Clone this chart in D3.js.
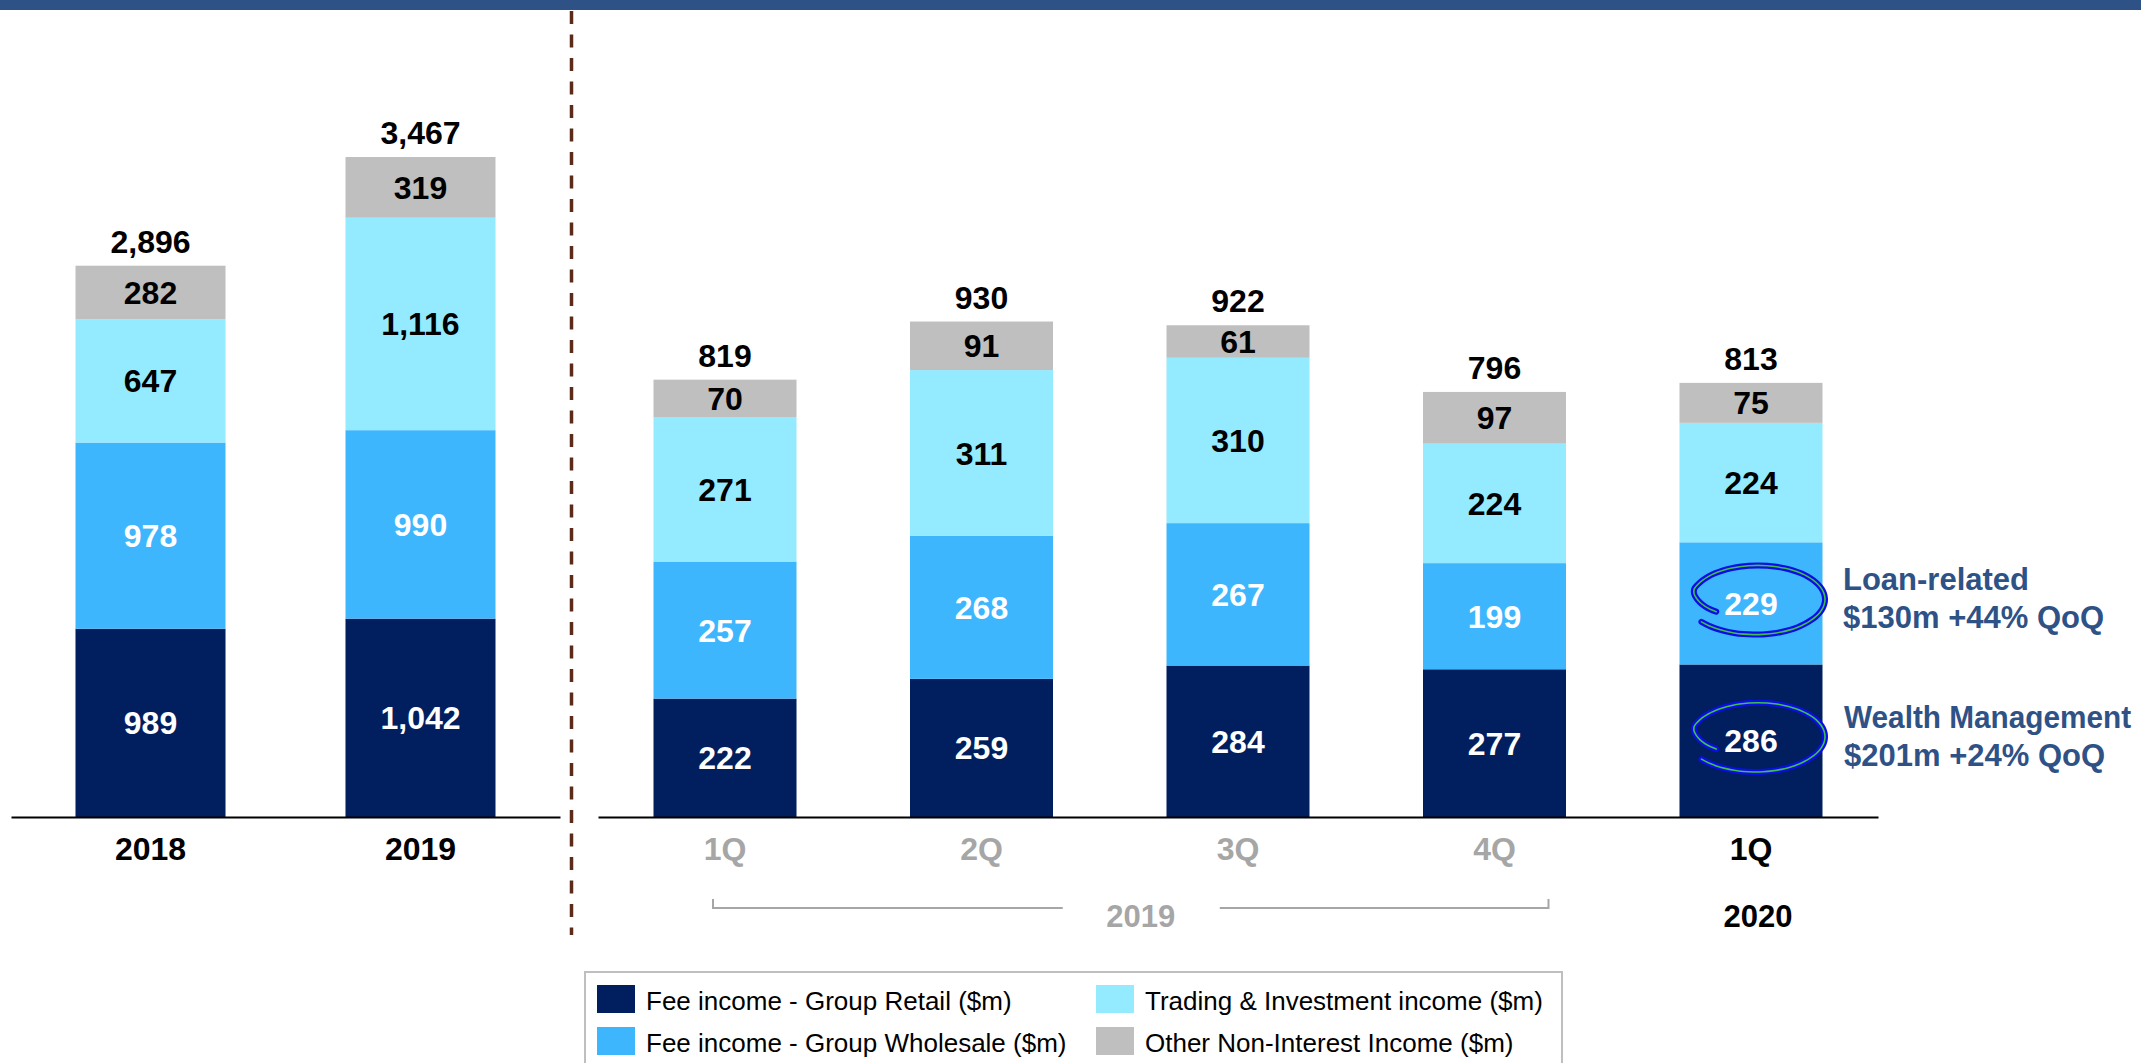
<!DOCTYPE html>
<html>
<head>
<meta charset="utf-8">
<script src="https://cdn.jsdelivr.net/npm/d3@7"></script>
<style>
  body { margin: 0; background: #fff; }
  svg { display: block; font-family: "Liberation Sans", Arial, sans-serif; }
</style>
</head>
<body>
<svg id="svg"></svg>
<script>
// data
const seriesKeys = ["retail", "wholesale", "trading", "other"]
const seriesNames = [
    "Fee income - Group Retail ($m)",
    "Fee income - Group Wholesale ($m)",
    "Trading & Investment income ($m)",
    "Other Non-Interest Income ($m)"
]
const seriesColors = ["#011F5E", "#3DB6FE", "#94EAFE", "#BFBFBF"]
const seriesTextColors = ["#fff", "#fff", "#000", "#000"]

const years = ["2018", "2019"]
const yearRetail = [989, 1042]
const yearWholesale = [978, 990]
const yearTrading = [647, 1116]
const yearOther = [282, 319]
const yearTotals = ["2,896", "3,467"]

const quarters = ["1Q19", "2Q19", "3Q19", "4Q19", "1Q20"]
const quarterLabels = ["1Q", "2Q", "3Q", "4Q", "1Q"]
const quarterRetail = [222, 259, 284, 277, 286]
const quarterWholesale = [257, 268, 267, 199, 229]
const quarterTrading = [271, 311, 310, 224, 224]
const quarterOther = [70, 91, 61, 97, 75]
const quarterTotals = ["819", "930", "922", "796", "813"]

const W = 2141, H = 1063
const baseY = 817
const blue = "#2F5286"
const grey = "#A6A6A6"
const font = 32

const svg = d3.select("#svg").attr("width", W).attr("height", H)

// top band
svg.append("rect").attr("x", 0).attr("y", 0).attr("width", W).attr("height", 10).attr("fill", blue)

// divider
svg.append("line")
    .attr("x1", 571.5).attr("x2", 571.5)
    .attr("y1", 11).attr("y2", 935)
    .attr("stroke", "#5B2A18")
    .attr("stroke-width", 3.5)
    .attr("stroke-dasharray", "13,10.5")

const rows = (cats, r, w, t, o) => cats.map((c, i) => ({cat: c, retail: r[i], wholesale: w[i], trading: t[i], other: o[i]}))

function panel(cats, table, totals, x, y) {
    const stack = d3.stack().keys(seriesKeys)(table)
    const g = svg.append("g")

    stack.forEach((layer, li) => {
        layer.forEach(d => {
            g.append("rect")
                .attr("x", x(d.data.cat))
                .attr("width", x.bandwidth())
                .attr("y", y(d[1]))
                .attr("height", y(d[0]) - y(d[1]))
                .attr("fill", seriesColors[li])
            g.append("text")
                .attr("x", x(d.data.cat) + x.bandwidth() / 2)
                .attr("y", (y(d[0]) + y(d[1])) / 2)
                .attr("dy", "0.36em")
                .attr("text-anchor", "middle")
                .attr("font-size", font).attr("font-weight", "bold")
                .attr("fill", seriesTextColors[li])
                .text(d3.format(",")(d[1] - d[0]))
        })
    })

    const top = stack[stack.length - 1]
    top.forEach((d, i) => {
        g.append("text")
            .attr("x", x(d.data.cat) + x.bandwidth() / 2)
            .attr("y", y(d[1]) - 13)
            .attr("text-anchor", "middle")
            .attr("font-size", font).attr("font-weight", "bold")
            .text(totals[i])
    })
    return stack
}

// annual panel
const xYear = d3.scaleBand().domain(years).range([11, 560]).paddingInner(0.4444).paddingOuter(0.2389)
const yYear = d3.scaleLinear().domain([0, 3467]).range([baseY, 157])
panel(years, rows(years, yearRetail, yearWholesale, yearTrading, yearOther), yearTotals, xYear, yYear)

// quarterly panel
const xQ = d3.scaleBand().domain(quarters).range([598, 1878]).paddingInner(0.4425).paddingOuter(0.2164)
const yQ = d3.scaleLinear().domain([0, 930]).range([baseY, 321])
const qStack = panel(quarters, rows(quarters, quarterRetail, quarterWholesale, quarterTrading, quarterOther), quarterTotals, xQ, yQ)

// axes
const axisYear = svg.append("g").attr("transform", `translate(0,${baseY})`)
    .call(d3.axisBottom(xYear).tickSizeInner(0).tickSizeOuter(0).tickPadding(20))
const axisQ = svg.append("g").attr("transform", `translate(0,${baseY})`)
    .call(d3.axisBottom(xQ).tickSizeInner(0).tickSizeOuter(0).tickPadding(20)
        .tickFormat((d, i) => quarterLabels[i]))

;[axisYear, axisQ].forEach(a => {
    a.select(".domain").attr("stroke", "#000").attr("stroke-width", 2)
    a.selectAll("text")
        .attr("font-family", "Liberation Sans, Arial, sans-serif")
        .attr("font-size", font).attr("font-weight", "bold")
        .attr("fill", "#000")
})
axisQ.selectAll(".tick text").attr("fill", d => d.endsWith("19") ? grey : "#000")

// bracket under 2019 quarters
const bx0 = xQ("1Q19") + xQ.bandwidth() / 2 - 12
const bx1 = xQ("4Q19") + xQ.bandwidth() / 2 + 54
const bMid = (bx0 + bx1) / 2 + 10
const by = 908
svg.append("path")
    .attr("d", `M${bx0},${by - 9}V${by}H${bMid - 78}M${bMid + 79},${by}H${bx1}V${by - 9}`)
    .attr("fill", "none").attr("stroke", grey).attr("stroke-width", 2)
svg.append("text")
    .attr("x", bMid).attr("y", 927)
    .attr("text-anchor", "middle")
    .attr("font-size", 31).attr("font-weight", "bold").attr("fill", grey)
    .text("2019")
svg.append("text")
    .attr("x", xQ("1Q20") + xQ.bandwidth() / 2 + 7).attr("y", 927)
    .attr("text-anchor", "middle")
    .attr("font-size", 31).attr("font-weight", "bold").attr("fill", "#000")
    .text("2020")

// hand-drawn circles + notes on 1Q20
const notes = [
    {layer: 1, lines: ["Loan-related", "$130m +44% QoQ"], dx: 92, squeeze: 1},
    {layer: 0, lines: ["Wealth Management", "$201m +24% QoQ"], dx: 93, squeeze: 0.96}
]
const penLine = d3.line().curve(d3.curveCatmullRom)

notes.forEach(n => {
    const d = qStack[n.layer][4]
    const cx = xQ("1Q20") + xQ.bandwidth() / 2
    const cy = (yQ(d[0]) + yQ(d[1])) / 2
    const ex = cx + 7, ey = cy - 4, rx = 67, ry = 34
    const pts = d3.range(150, 505, 8).map(a => {
        const r = 0.72 + 0.28 * Math.min(1, (a - 150) / 45) + 0.07 * Math.max(0, (a - 400) / 100)
        const t = a * Math.PI / 180
        return [ex + rx * r * Math.cos(t), ey + ry * r * Math.sin(t)]
    })
    svg.append("path").attr("d", penLine(pts))
        .attr("fill", "none").attr("stroke", "#0C0CE6").attr("stroke-width", 6).attr("stroke-linecap", "round")
    svg.append("path").attr("d", penLine(pts))
        .attr("fill", "none").attr("stroke", "#3FC04A").attr("stroke-width", 1.6).attr("stroke-linecap", "round")

    n.lines.forEach((s, i) => {
        const sx = i === 0 ? n.squeeze : 1
        svg.append("text")
            .attr("transform", `translate(${cx + n.dx},${cy - 13 + i * 38}) scale(${sx},1)`)
            .attr("font-size", 31).attr("font-weight", "bold").attr("fill", blue)
            .text(s)
    })
})

// legend
const legend = svg.append("g")
legend.append("rect")
    .attr("x", 585).attr("y", 972).attr("width", 977).attr("height", 110)
    .attr("fill", "#fff").attr("stroke", "#BFBFBF").attr("stroke-width", 2)
const legendOrder = [0, 2, 1, 3]
legendOrder.forEach((si, k) => {
    const col = k % 2, row = Math.floor(k / 2)
    const lx = 597 + col * 499, ly = 985 + row * 42
    legend.append("rect").attr("x", lx).attr("y", ly).attr("width", 38).attr("height", 28).attr("fill", seriesColors[si])
    legend.append("text").attr("x", lx + 49).attr("y", ly + 25)
        .attr("font-size", 26).attr("fill", "#000")
        .text(seriesNames[si])
})
</script>
</body>
</html>
